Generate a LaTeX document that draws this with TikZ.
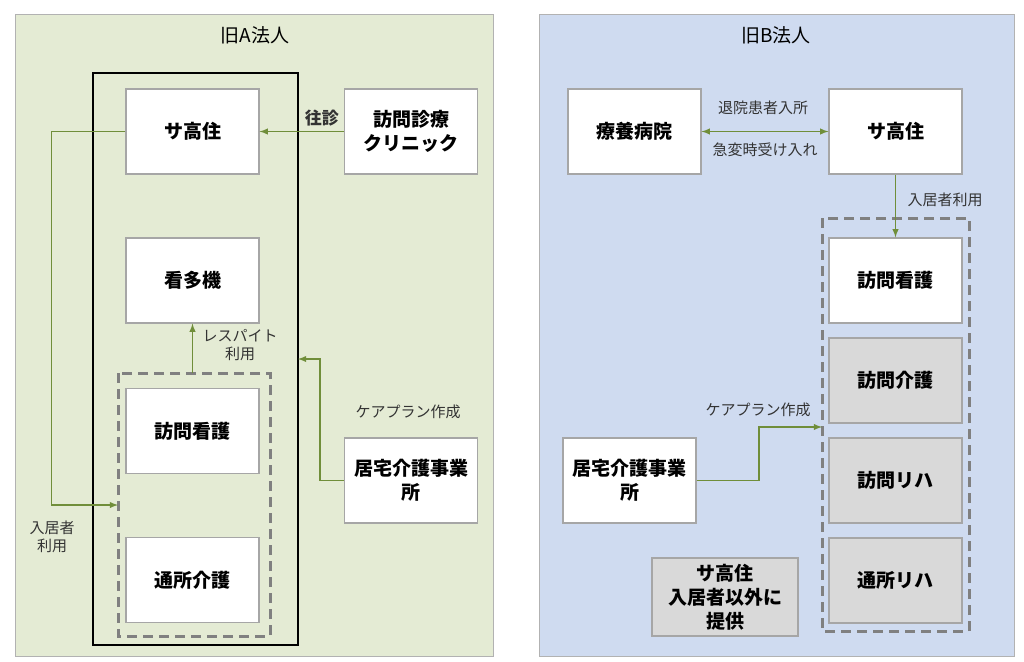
\documentclass[tikz,border=0pt]{standalone}
\usepackage{fontspec}
\setmainfont{Noto Sans CJK JP}
\usetikzlibrary{positioning}
\definecolor{agreen}{RGB}{228,235,212}
\definecolor{bblue}{RGB}{207,219,240}
\definecolor{linegreen}{RGB}{112,142,58}
\definecolor{boxgray}{RGB}{217,217,217}
\begin{document}
\begin{tikzpicture}[x=1pt,y=-1pt,inner sep=0pt]
\tikzstyle{unit}=[rectangle, draw=black!35, line width=1.2pt, fill=white, minimum width=133pt, minimum height=85pt, align=center, font=\fontsize{19}{24}\selectfont\bfseries]
\tikzstyle{grayunit}=[unit, fill=boxgray]
\tikzstyle{connect}=[-latex, line width=1.8pt, draw=linegreen]
\tikzstyle{lbl}=[font=\fontsize{15}{18}\selectfont, align=center, text=black!80]
\tikzstyle{group}=[draw=black!50, line width=3pt, dash pattern=on 10pt off 6pt]
\useasboundingbox (0,0) rectangle (1024,661);
% panels
\draw[draw=black!30, line width=1pt, fill=agreen] (15,15) rectangle (493,656);
\draw[draw=black!30, line width=1pt, fill=bblue] (539,15) rectangle (1014,656);
\node[font=\fontsize{19}{23}\selectfont] (titleA) at (255,35) {旧A法人};
\node[font=\fontsize{19}{23}\selectfont] (titleB) at (776,35) {旧B法人};
% A
\draw[line width=1.8pt] (93,73) rectangle (298,645);
\node[unit] (sakoA) at (192.5,131.5) {サ高住};
\node[unit] (kantaki) at (192.5,280.5) {看多機};
\draw[group] (118,373) rectangle (270,636);
\coordinate (grpAtop) at (192.5,373);
\coordinate (grpAleft) at (118,505);
\node[unit] (houkanA) at (192.5,431) {訪問看護};
\node[unit] (tsusho) at (192.5,580) {通所介護};
\node[unit] (clinic) at (411,131.5) {訪問診療\\クリニック};
\node[unit] (kyotakuA) at (411,480.5) {居宅介護事業\\所};
\coordinate (boxAright) at (298,359);
\path[connect] (clinic) -- (sakoA) node[midway, above=4pt, lbl, font=\fontsize{17}{20}\selectfont\bfseries, xshift=20pt] {往診};
\path[connect] (sakoA.west) -- ++(-74,0) |- (grpAleft);
\node[lbl] (nyukyoA) at (52,537) {入居者\\利用};
\path[connect] (grpAtop) -- (kantaki.south);
\node[lbl] (respite) at (240,345) {レスパイト\\利用};
\path[connect] (kyotakuA.west) -- ++(-24,0) |- (boxAright);
\node[lbl] (careA) at (408,412) {ケアプラン作成};
% B
\node[unit] (hospital) at (634.5,131.5) {療養病院};
\node[unit] (sakoB) at (895.5,131.5) {サ高住};
\draw[group] (822,218) rectangle (969,631);
\coordinate (grpBleft) at (822,427);
\node[unit] (houkanB) at (895.5,280.5) {訪問看護};
\node[grayunit] (houkai) at (895.5,380.5) {訪問介護};
\node[grayunit] (houriha) at (895.5,480.5) {訪問リハ};
\node[grayunit] (tsuriha) at (895.5,580.5) {通所リハ};
\node[unit] (kyotakuB) at (629.5,480.5) {居宅介護事業\\所};
\node[grayunit, minimum width=146pt, minimum height=78pt] (other) at (725,597) {サ高住\\入居者以外に\\提供};
\path[connect, latex-latex] (hospital) -- (sakoB);
\node[lbl] (taiin) at (763,108) {退院患者入所};
\node[lbl] (kyuhen) at (765,150) {急変時受け入れ};
\path[connect] (sakoB) -- (houkanB);
\node[lbl] (nyukyoB) at (945,200) {入居者利用};
\path[connect] (kyotakuB.east) -- ++(62,0) |- (grpBleft);
\node[lbl] (careB) at (758,410) {ケアプラン作成};
\end{tikzpicture}
\end{document}
